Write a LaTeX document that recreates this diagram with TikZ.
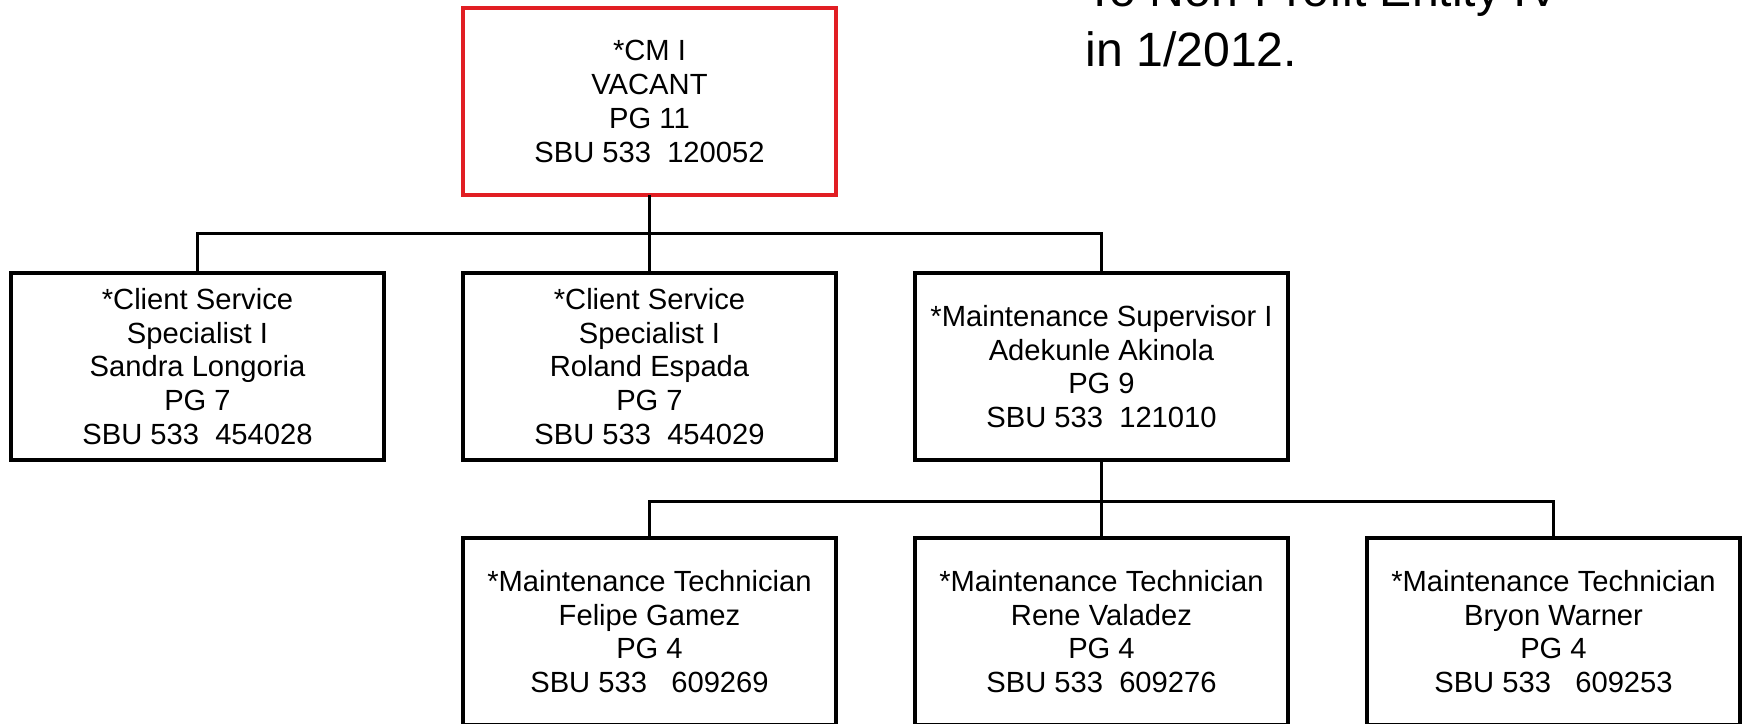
\documentclass[tikz,border=0pt]{standalone}
\usepackage{fontspec}
\setmainfont{Liberation Sans}
\usetikzlibrary{positioning}

\definecolor{vacantred}{RGB}{225,30,35}

\begin{document}
\begin{tikzpicture}[node distance=0.78cm]
  \tikzstyle{post}=[draw,line width=1pt,outer sep=0pt,inner sep=0pt,minimum width=3.73cm,minimum height=1.87cm,align=center,font=\fontsize{8.3}{9.6}\selectfont]
  \tikzstyle{conn}=[line width=0.85pt]
  \useasboundingbox (0,0) rectangle (17.45,-7.24);
  \node[post,draw=vacantred,line width=1.15pt] (cm) at (6.495,-1.015) {*CM I\\VACANT\\PG 11\\SBU 533~~120052};
  \node[post,below=of cm] (css2) {*Client Service\\Specialist I\\Roland Espada\\PG 7\\SBU 533~~454029};
  \node[post,left=0.79cm of css2] (css1) {*Client Service\\Specialist I\\Sandra Longoria\\PG 7\\SBU 533~~454028};
  \node[post,right=0.79cm of css2] (ms) {*Maintenance Supervisor I\\Adekunle Akinola\\PG 9\\SBU 533~~121010};
  \node[post,below=of css2] (tech1) {*Maintenance Technician\\Felipe Gamez\\PG 4\\SBU 533~~~609269};
  \node[post,below=of ms] (tech2) {*Maintenance Technician\\Rene Valadez\\PG 4\\SBU 533~~609276};
  \node[post,right=0.79cm of tech2] (tech3) {*Maintenance Technician\\Bryon Warner\\PG 4\\SBU 533~~~609253};
  \node[anchor=base west,align=left,inner sep=0pt,font=\fontsize{13.7}{16.8}\selectfont] (note) at (10.85,-0.66) {To Non-Profit Entity IV\\in 1/2012.};
  \draw[conn] (cm.south) -- (css2.north);
  \draw[conn] (css1.north) -- ++(0,0.4) -| (ms.north);
  \draw[conn] (ms.south) -- (tech2.north);
  \draw[conn] (tech1.north) -- ++(0,0.37) -| (tech3.north);
\end{tikzpicture}
\end{document}
